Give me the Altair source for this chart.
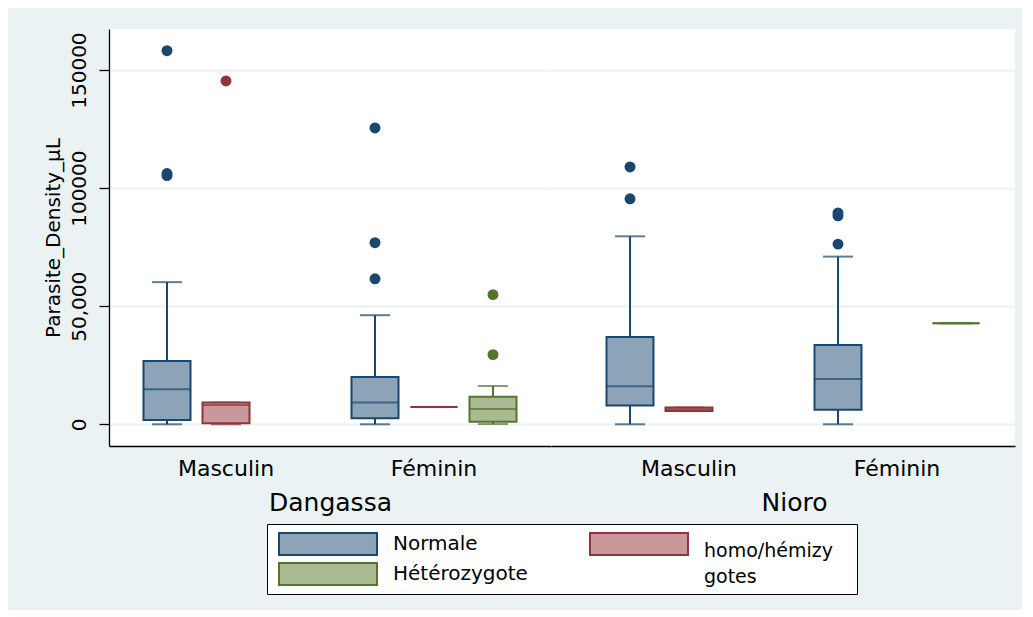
import altair as alt
import pandas as pd

# ---------------- data ----------------
SEXES = ["Masculin", "Féminin"]
GENOS = ["Normale", "homo/hémizygotes", "Hétérozygote"]

box_site = ["Dangassa", "Dangassa", "Dangassa", "Dangassa", "Dangassa",
            "Nioro", "Nioro", "Nioro", "Nioro"]
box_sex = ["Masculin", "Masculin", "Féminin", "Féminin", "Féminin",
           "Masculin", "Masculin", "Féminin", "Féminin"]
box_geno = ["Normale", "homo/hémizygotes", "Normale", "homo/hémizygotes", "Hétérozygote",
            "Normale", "homo/hémizygotes", "Normale", "Hétérozygote"]
box_lo = [0, 0, 0, 7300, 100, 0, 5600, 0, 42800]
box_q1 = [1800, 400, 2500, 7300, 1100, 7900, 5600, 6200, 42800]
box_med = [14800, 8200, 9200, 7300, 6500, 16100, 6400, 19200, 42800]
box_q3 = [26800, 9200, 20000, 7300, 11700, 37000, 7100, 33600, 42800]
box_hi = [60200, 9200, 46200, 7300, 16200, 79600, 7100, 71000, 42800]

out_site = ["Dangassa", "Dangassa", "Dangassa", "Dangassa", "Dangassa", "Dangassa",
            "Dangassa", "Dangassa", "Dangassa",
            "Nioro", "Nioro", "Nioro", "Nioro", "Nioro"]
out_sex = ["Masculin", "Masculin", "Masculin", "Masculin", "Féminin", "Féminin",
           "Féminin", "Féminin", "Féminin",
           "Masculin", "Masculin", "Féminin", "Féminin", "Féminin"]
out_geno = ["Normale", "Normale", "Normale", "homo/hémizygotes", "Normale", "Normale",
            "Normale", "Hétérozygote", "Hétérozygote",
            "Normale", "Normale", "Normale", "Normale", "Normale"]
out_val = [158200, 106200, 105300, 145400, 125500, 76900,
           61600, 54900, 29500,
           109000, 95500, 89500, 88300, 76300]

# legend entries (grid: column, row)
leg_geno = ["Normale", "homo/hémizygotes", "Hétérozygote"]
leg_col = [0, 1, 0]
leg_row = [0, 0, 1]
leg_text = ["Normale", "homo/hémizy\ngotes", "Hétérozygote"]

FILL_COLORS = ["#8CA3B8", "#C8989B", "#AABA92"]
LINE_COLORS = ["#1A476F", "#90353B", "#55752F"]
Y_TICKS = [0, 50000, 100000, 150000]

boxes = pd.DataFrame(dict(site=box_site, sex=box_sex, geno=box_geno, lo=box_lo,
                          q1=box_q1, med=box_med, q3=box_q3, hi=box_hi))
outs = pd.DataFrame(dict(site=out_site, sex=out_sex, geno=out_geno, val=out_val))
leg = pd.DataFrame(dict(geno=leg_geno, col=leg_col, row=leg_row, text=leg_text))

FONT = "DejaVu Sans"
BG = "#EAF2F3"

fill_scale = alt.Scale(domain=GENOS, range=FILL_COLORS)
stroke_scale = alt.Scale(domain=GENOS, range=LINE_COLORS)
y_scale = alt.Scale(domain=[-9200, 167400], nice=False, zero=False)


def panel(site, width, pad_outer, align, left_axis, title_x):
    bx = boxes[boxes.site == site]
    ox = outs[outs.site == site]

    x_axis = alt.Axis(
        title=site, labelFont=FONT, labelFontSize=22, labelColor="black",
        labelPadding=12, ticks=False, tickSize=0, domainColor="black", domainWidth=1.3,
        titleFont=FONT, titleFontSize=25, titleFontWeight="normal", titleColor="black",
        titlePadding=11, titleX=title_x, labelAngle=0,
    )
    if left_axis:
        y_axis = alt.Axis(
            values=Y_TICKS,
            labelExpr="datum.value == 50000 ? '50,000' : format(datum.value, 'd')",
            labelAngle=270, labelAlign="center", labelBaseline="bottom",
            labelFont=FONT, labelFontSize=20, labelColor="black", labelPadding=10,
            tickSize=10, tickColor="black", tickWidth=1.3,
            domainColor="black", domainWidth=1.3,
            grid=True, gridColor=BG, gridWidth=1.8,
            titleFont=FONT, titleFontSize=20, titleFontWeight="normal", titleColor="black",
            titlePadding=6,
        )
        y_title = "Parasite_Density_µL"
    else:
        y_axis = alt.Axis(values=Y_TICKS, labels=False, ticks=False, domain=False,
                          grid=True, gridColor=BG, gridWidth=1.8)
        y_title = None

    x = alt.X("sex:N", sort=SEXES, axis=x_axis,
              scale=alt.Scale(domain=SEXES, paddingInner=0, paddingOuter=pad_outer, align=align))
    xo = alt.XOffset("geno:N", sort=GENOS,
                     scale=alt.Scale(domain=GENOS, paddingInner=0, paddingOuter=0.2627))
    col = alt.Color("geno:N", scale=stroke_scale, legend=None)

    base = alt.Chart(bx)
    whisk = base.mark_rule(strokeWidth=2).encode(
        x=x, xOffset=xo, y=alt.Y("lo:Q", scale=y_scale, axis=y_axis, title=y_title),
        y2="hi:Q", color=col)
    cap_lo = base.mark_tick(size=30, thickness=2).encode(
        x=x, xOffset=xo, y=alt.Y("lo:Q", scale=y_scale), color=col)
    cap_hi = base.mark_tick(size=30, thickness=2).encode(
        x=x, xOffset=xo, y=alt.Y("hi:Q", scale=y_scale), color=col)
    box = base.mark_bar(width=47, strokeWidth=2).encode(
        x=x, xOffset=xo, y=alt.Y("q1:Q", scale=y_scale), y2="q3:Q",
        fill=alt.Fill("geno:N", scale=fill_scale, legend=None),
        stroke=alt.Stroke("geno:N", scale=stroke_scale, legend=None))
    med = base.mark_tick(size=47, thickness=2).encode(
        x=x, xOffset=xo, y=alt.Y("med:Q", scale=y_scale), color=col)
    pts = alt.Chart(ox).mark_circle(size=120, opacity=1).encode(
        x=x, xOffset=xo, y=alt.Y("val:Q", scale=y_scale), color=col)

    return alt.layer(whisk, cap_lo, cap_hi, box, med, pts).properties(width=width, height=417)


left = panel("Dangassa", 442, 0.0625, 0.5, True, 221)
right = panel("Nioro", 464, 0.11538, 0.7083, False, 243)
plots = (
    alt.hconcat(left, right, spacing=0)
    .resolve_scale(x="independent", xOffset="independent", y="independent")
    .resolve_axis(x="independent", y="independent")
)

# ---------------- legend (drawn as its own small view) ----------------
lx = alt.X("col:O", axis=None,
           scale=alt.Scale(type="point", padding=0.4486, align=0.2186))
ly = alt.Y("row:O", axis=None,
           scale=alt.Scale(type="point", padding=0.6667, align=0.5))
lbase = alt.Chart(leg)
swatch = lbase.mark_point(
    shape="M-1,-0.2245L1,-0.2245L1,0.2245L-1,0.2245Z", size=9604,
    filled=True, strokeWidth=2, opacity=1,
).encode(
    x=lx, y=ly,
    fill=alt.Fill("geno:N", scale=fill_scale, legend=None),
    stroke=alt.Stroke("geno:N", scale=stroke_scale, legend=None),
)
txt1 = lbase.transform_filter(alt.datum.col == 0).mark_text(
    align="left", baseline="middle", dx=65, font=FONT, fontSize=20, color="black"
).encode(x=lx, y=ly, text="text:N")
txt2 = lbase.transform_filter(alt.datum.col == 1).mark_text(
    align="left", baseline="top", dx=65, dy=-2, font=FONT, fontSize=19,
    lineBreak="\n", lineHeight=26, color="black"
).encode(x=lx, y=ly, text="text:N")

legend_view = alt.layer(swatch, txt1, txt2).properties(
    width=590, height=70,
    view=alt.ViewBackground(fill="white", stroke="black", strokeWidth=1),
)

# empty spacer that shifts the legend box to the right of the plot's left edge
spacer = lbase.mark_point(opacity=0).encode(
    x=alt.X("col:O", axis=None), y=alt.Y("row:O", axis=None)
).properties(
    width=157, height=70,
    view=alt.ViewBackground(fill="transparent", stroke="transparent", strokeWidth=0),
)

bottom = alt.hconcat(spacer, legend_view, spacing=0)

chart = (
    alt.concat(plots, bottom, columns=1, spacing=8)
    .properties(background=BG, padding={"left": 34, "top": 21, "right": 7, "bottom": 15})
    .configure(font=FONT)
    .configure_view(strokeWidth=0, stroke="transparent", fill="white")
)

chart.save("out.html", embed_options={"renderer": "svg", "actions": False})
